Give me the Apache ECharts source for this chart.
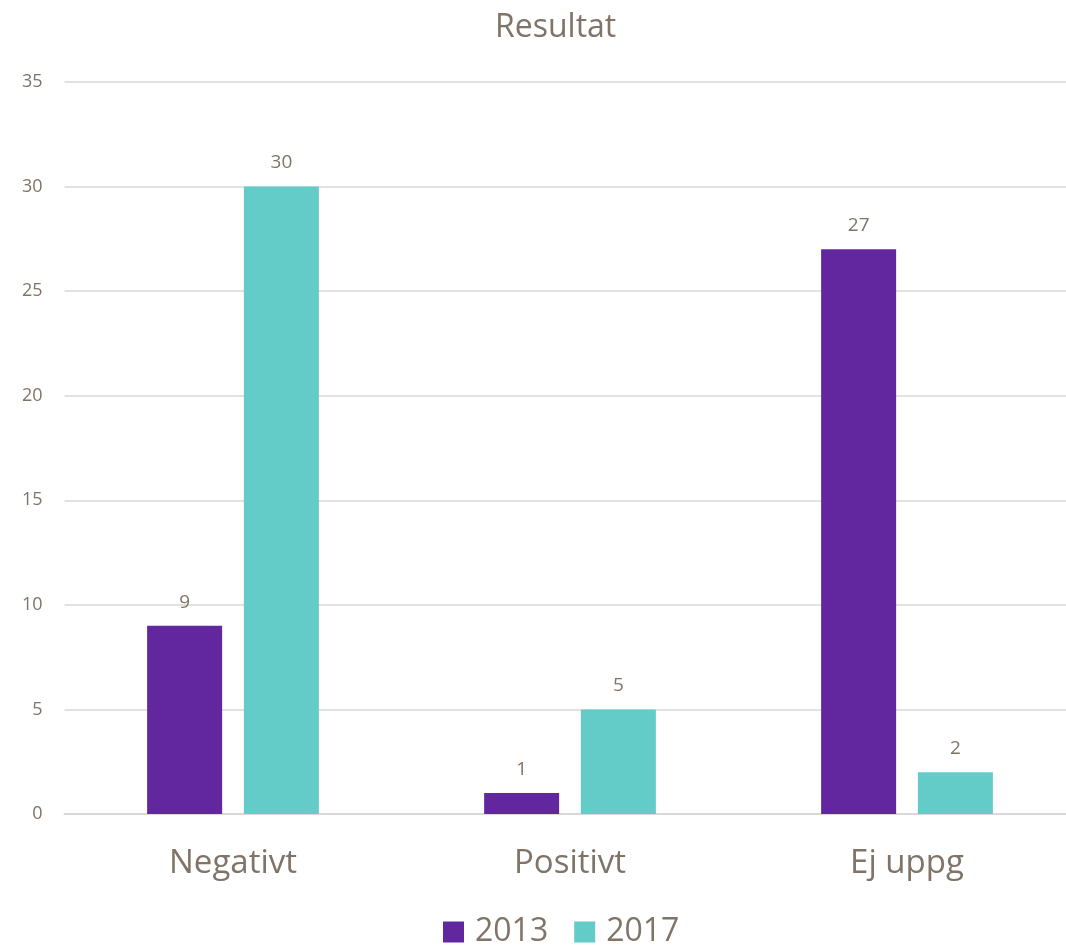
<!DOCTYPE html>
<html><head><meta charset="utf-8">
<script src="https://cdn.jsdelivr.net/npm/echarts@6/dist/echarts.min.js"></script>
<style>html,body{margin:0;padding:0;background:#fff}#c{width:1066px;height:945px}</style>
</head><body><div id="c"></div>
<script>
const title = 'Resultat';
const categories = ['Negativt', 'Positivt', 'Ej uppg'];
const seriesNames = ['2013', '2017'];
const values2013 = [9, 1, 27];
const values2017 = [30, 5, 2];
const yTicks = [0, 5, 10, 15, 20, 25, 30, 35];

const txt = '#7F7467';
const font = '"Open Sans", sans-serif';
const chart = echarts.init(document.getElementById('c'), null, {renderer: 'canvas'});
const mk = (name, data, color) => ({
  name, type: 'bar', data, barWidth: 75, barGap: '29%',
  itemStyle: {color},
  label: {show: true, position: 'top', distance: 14, color: txt, fontSize: 19, fontFamily: font},
  animation: false
});
chart.setOption({
  animation: false,
  title: {text: title, left: 490, top: 7, textStyle: {color: txt, fontSize: 32, fontWeight: 'normal', fontFamily: font}},
  legend: {bottom: -8, left: 438, itemWidth: 21, itemHeight: 21, itemGap: 26, icon: 'rect',
    textStyle: {color: txt, fontSize: 32, fontFamily: font, padding: [0, 0, 0, 6]}, data: seriesNames},
  grid: {left: 64.5, width: 1011, top: 82, bottom: 131, containLabel: false, outerBoundsMode: 'none'},
  xAxis: {type: 'category', data: categories,
    axisLine: {show: true, lineStyle: {color: '#D9D9D9', width: 2}}, axisTick: {show: false},
    axisLabel: {color: txt, fontSize: 33, margin: 33, fontFamily: font}},
  yAxis: {type: 'value', min: yTicks[0], max: yTicks[yTicks.length - 1], interval: 5,
    axisLine: {show: false}, axisTick: {show: false},
    splitLine: {lineStyle: {color: '#D9D9D9', width: 1.5}},
    axisLabel: {color: txt, fontSize: 18, margin: 22, fontFamily: font}},
  series: [mk(seriesNames[0], values2013, '#62269E'), mk(seriesNames[1], values2017, '#63CBC8')]
});
</script></body></html>
